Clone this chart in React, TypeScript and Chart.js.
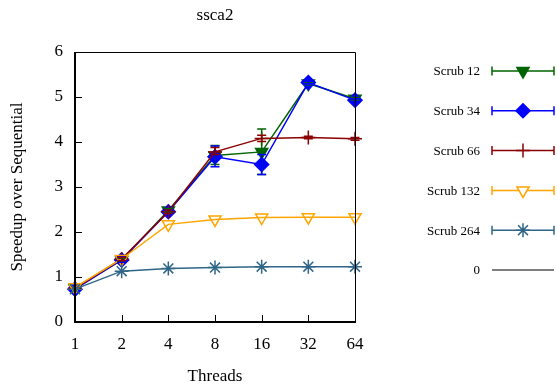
import React, { useEffect, useRef } from "react";
import { Chart, registerables } from "chart.js";

Chart.register(...registerables);

const threads = ["1", "2", "4", "8", "16", "32", "64"];
const seriesNames = ["Scrub 12", "Scrub 34", "Scrub 66", "Scrub 132", "Scrub 264"];

const scrub12 = [0.75, 1.38, 2.48, 3.7, 3.78, 5.3, 4.96];
const scrub34 = [0.73, 1.38, 2.45, 3.67, 3.5, 5.32, 4.93];
const scrub66 = [0.75, 1.4, 2.45, 3.78, 4.08, 4.1, 4.07];
const scrub132 = [0.77, 1.4, 2.17, 2.28, 2.32, 2.33, 2.33];
const scrub264 = [0.73, 1.13, 1.19, 1.21, 1.23, 1.23, 1.23];
const zeroLine = [0, 0, 0, 0, 0, 0, 0];

// error bars: [low, high] per point (null = none drawn)
const err12 = [null, [1.34, 1.42], [2.44, 2.52], [3.5, 3.92], [3.28, 4.29], [5.27, 5.33], [4.93, 4.99]];
const err34 = [null, [1.33, 1.45], [2.41, 2.49], [3.45, 3.91], [3.28, 3.72], [5.29, 5.35], [4.9, 4.96]];
const err66 = [null, [1.36, 1.44], [2.41, 2.49], [3.72, 3.88], [4.01, 4.15], [4.07, 4.13], [4.04, 4.1]];
const err132 = [null, null, null, null, null, null, null];
const err264 = [null, null, null, null, null, null, null];

const colors = ["#006400", "#0000ff", "#8b0000", "#ffa500", "#2f6586"];
const SERIF = "'Liberation Serif', 'DejaVu Serif', serif";

function drawMarker(ctx: CanvasRenderingContext2D, style: string, fill: boolean, color: string, r: number, x: number, y: number) {
  ctx.save();
  ctx.strokeStyle = color;
  ctx.fillStyle = fill ? color : "#fff";
  ctx.lineWidth = 1.5;
  ctx.beginPath();
  if (style === "triangle") {
    // pointing down
    const h = r * 0.5;
    const w = r * Math.sqrt(3) / 2;
    ctx.moveTo(x - w, y - h);
    ctx.lineTo(x + w, y - h);
    ctx.lineTo(x, y + r);
    ctx.closePath();
    ctx.fill();
    ctx.stroke();
  } else if (style === "rectRot") {
    ctx.moveTo(x, y - r);
    ctx.lineTo(x + r, y);
    ctx.lineTo(x, y + r);
    ctx.lineTo(x - r, y);
    ctx.closePath();
    ctx.fill();
    ctx.stroke();
  } else if (style === "cross") {
    ctx.moveTo(x - r, y);
    ctx.lineTo(x + r, y);
    ctx.moveTo(x, y - r);
    ctx.lineTo(x, y + r);
    ctx.stroke();
  } else if (style === "star") {
    const d = r * Math.SQRT1_2;
    ctx.moveTo(x - r, y);
    ctx.lineTo(x + r, y);
    ctx.moveTo(x, y - r);
    ctx.lineTo(x, y + r);
    ctx.moveTo(x - d, y - d);
    ctx.lineTo(x + d, y + d);
    ctx.moveTo(x - d, y + d);
    ctx.lineTo(x + d, y - d);
    ctx.stroke();
  }
  ctx.restore();
}

export default function App() {
  const ref = useRef<HTMLCanvasElement>(null);
  useEffect(() => {
    const values = [scrub12, scrub34, scrub66, scrub132, scrub264];
    const errs = [err12, err34, err66, err132, err264];
    const styles: any[] = [
      { pointStyle: "triangle", rotation: 180, fill: true, radius: 7 },
      { pointStyle: "rectRot", rotation: 0, fill: true, radius: 7 },
      { pointStyle: "cross", rotation: 0, fill: false, radius: 7 },
      { pointStyle: "triangle", rotation: 180, fill: false, radius: 7 },
      { pointStyle: "star", rotation: 0, fill: false, radius: 7 },
    ];
    const datasets: any[] = values.map((v, i) => ({
      label: seriesNames[i],
      data: v,
      borderColor: colors[i],
      backgroundColor: styles[i].fill ? colors[i] : "rgba(0,0,0,0)",
      pointBackgroundColor: styles[i].fill ? colors[i] : "rgba(0,0,0,0)",
      pointBorderColor: colors[i],
      pointStyle: styles[i].pointStyle,
      pointRotation: styles[i].rotation,
      pointRadius: styles[i].radius,
      pointBorderWidth: 1.5,
      borderWidth: 1.5,
      tension: 0,
      clip: false,
      order: 10 - i,
    }));
    datasets.push({
      label: "0",
      data: zeroLine,
      borderColor: "#000",
      borderWidth: 1.5,
      pointRadius: 0,
      clip: false,
      order: 0,
    });

    const framePlugin = {
      id: "frame",
      afterDatasetsDraw(chart: any) {
        const ctx = chart.ctx;
        const ys = chart.scales.y;
        datasets.forEach((ds, i) => {
          if (i >= errs.length) return;
          const meta = chart.getDatasetMeta(i);
          ctx.save();
          ctx.strokeStyle = colors[i];
          ctx.lineWidth = 1.5;
          errs[i].forEach((e: any, j: number) => {
            if (!e) return;
            const x = meta.data[j].x;
            const y1 = ys.getPixelForValue(e[0]);
            const y2 = ys.getPixelForValue(e[1]);
            ctx.beginPath();
            ctx.moveTo(x, y1);
            ctx.lineTo(x, y2);
            ctx.moveTo(x - 4.5, y1);
            ctx.lineTo(x + 4.5, y1);
            ctx.moveTo(x - 4.5, y2);
            ctx.lineTo(x + 4.5, y2);
            ctx.stroke();
          });
          ctx.restore();
        });
      },
      afterDraw(chart: any) {
        const ctx = chart.ctx;
        const { left, right, top, bottom } = chart.chartArea;
        const xs = chart.scales.x;
        const ys = chart.scales.y;
        ctx.save();
        ctx.strokeStyle = "#000";
        // border
        ctx.lineWidth = 1;
        ctx.beginPath();
        ctx.moveTo(left, top + 0.5);
        ctx.lineTo(right + 0.5, top + 0.5);
        ctx.lineTo(right + 0.5, bottom);
        ctx.stroke();
        ctx.lineWidth = 2;
        ctx.beginPath();
        ctx.moveTo(left, top);
        ctx.lineTo(left, bottom);
        ctx.lineTo(right + 1, bottom);
        ctx.stroke();
        // inward ticks
        ctx.lineWidth = 1;
        ctx.beginPath();
        ys.ticks.forEach((t: any) => {
          const y = Math.round(ys.getPixelForValue(t.value)) + 0.5;
          ctx.moveTo(left, y);
          ctx.lineTo(left + 7, y);
        });
        threads.forEach((_, j) => {
          const x = Math.round(xs.getPixelForValue(j)) + 0.5;
          ctx.moveTo(x, bottom);
          ctx.lineTo(x, bottom - 7);
        });
        ctx.stroke();
        // title
        ctx.fillStyle = "#000";
        ctx.font = `17px ${SERIF}`;
        ctx.textAlign = "center";
        ctx.textBaseline = "middle";
        ctx.fillText("ssca2", 215, 16);
        // legend
        const names = [...seriesNames, "0"];
        ctx.font = `13px ${SERIF}`;
        ctx.textAlign = "right";
        names.forEach((n, i) => {
          const y = 71 + i * 39.8;
          ctx.fillStyle = "#000";
          ctx.fillText(n, 480, y + 1);
          const x1 = 492, x2 = 554, xm = 523;
          const c = i < colors.length ? colors[i] : "#000";
          ctx.strokeStyle = c;
          ctx.lineWidth = i < colors.length ? 1.5 : 1.2;
          ctx.beginPath();
          ctx.moveTo(x1, y);
          ctx.lineTo(x2, y);
          if (i < colors.length) {
            ctx.moveTo(x1, y - 4.5);
            ctx.lineTo(x1, y + 4.5);
            ctx.moveTo(x2, y - 4.5);
            ctx.lineTo(x2, y + 4.5);
          }
          ctx.stroke();
          if (i < colors.length) {
            const st = styles[i];
            drawMarker(ctx, st.pointStyle, st.fill, c, st.radius, xm, y);
          }
        });
        ctx.restore();
      },
    };

    const chart = new Chart(ref.current!, {
      type: "line",
      data: { labels: threads, datasets },
      options: {
        animation: false,
        responsive: false,
        maintainAspectRatio: false,
        layout: { padding: { left: 0, top: 52, right: 202, bottom: 0 } },
        plugins: { legend: { display: false }, tooltip: { enabled: false }, title: { display: false } },
        scales: {
          x: {
            type: "category",
            offset: false,
            grid: { display: false, drawTicks: false },
            border: { display: false },
            ticks: { color: "#000", font: { family: SERIF, size: 17 }, padding: 12, maxRotation: 0, autoSkip: false },
            title: { display: true, text: "Threads", color: "#000", font: { family: SERIF, size: 17 }, padding: { top: 0, bottom: 0 } },
            afterFit: (s: any) => { s.height = 65; },
          },
          y: {
            min: 0,
            max: 6,
            grid: { display: false, drawTicks: false },
            border: { display: false },
            ticks: { stepSize: 1, color: "#000", font: { family: SERIF, size: 17 }, padding: 12 },
            title: { display: true, text: "Speedup over Sequential", color: "#000", font: { family: SERIF, size: 17 }, padding: { top: 7, bottom: 0 } },
            afterFit: (s: any) => { s.width = 75; },
          },
        },
      },
      plugins: [framePlugin],
    } as any);
    return () => chart.destroy();
  }, []);
  return (
    <div style={{ position: "fixed", left: 0, top: 0, width: 557, height: 387, background: "#fff" }}>
      <canvas ref={ref} width={557} height={387} style={{ width: 557, height: 387 }} />
    </div>
  );
}
